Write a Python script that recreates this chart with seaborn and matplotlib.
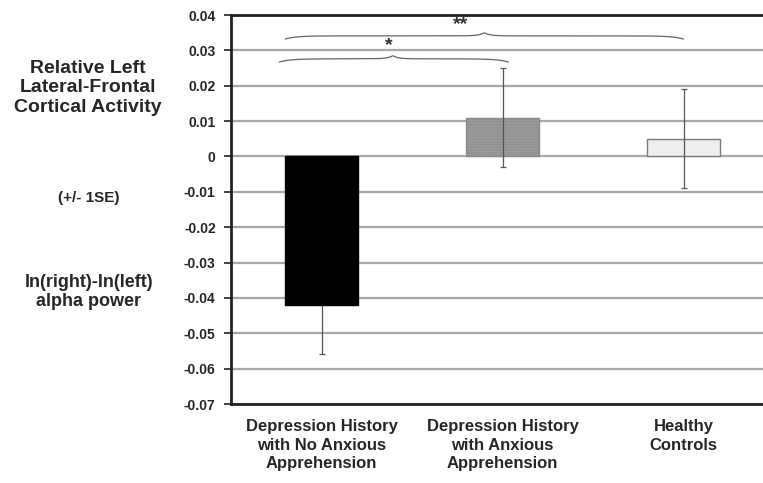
import numpy as np
import matplotlib
matplotlib.use("Agg")
import matplotlib.pyplot as plt
import seaborn as sns

# values
groups = ["Depression History\nwith No Anxious\nApprehension",
          "Depression History\nwith Anxious\nApprehension",
          "Healthy\nControls"]
means = [-0.042, 0.011, 0.005]
se = [0.014, 0.014, 0.014]
bar_colors = ["#000000", "#9c9c9c", "#eeeeee"]
edge_colors = ["#000000", "#8a8a8a", "#7a7a7a"]
yticks = [0.04, 0.03, 0.02, 0.01, 0, -0.01, -0.02, -0.03, -0.04, -0.05, -0.06, -0.07]

sns.set_theme(style="white")
plt.rcParams['font.family'] = ['Liberation Sans', 'DejaVu Sans']

fig = plt.figure(figsize=(7.63, 4.83), dpi=100)
ax = fig.add_axes([231 / 763, 1 - 404 / 483, 543 / 763, 389 / 483])

pos = list(range(len(groups)))
sns.barplot(x=pos, y=means, hue=pos, palette=bar_colors, width=0.4,
            legend=False, ax=ax, zorder=3)
for patch, ec in zip(ax.patches, edge_colors):
    patch.set_edgecolor(ec)
    patch.set_linewidth(1.0)
ax.patches[1].set_hatch("......")

# error bars: the black bar hides its own upper whisker
for i in pos:
    z = 2.5 if means[i] < 0 else 4
    ax.errorbar(i, means[i], yerr=se[i], fmt="none", ecolor="#555555",
                elinewidth=0.9, capsize=2, capthick=0.9, zorder=z)

ax.set_xlim(-0.5, 2.5)
ax.set_ylim(-0.07, 0.04)
ax.set_yticks(yticks)
ax.set_yticklabels(["0" if v == 0 else f"{v:.2f}" for v in yticks],
                   fontsize=10, fontweight="bold")
ax.set_xticks(pos)
ax.set_xticklabels(groups, fontsize=12, fontweight="bold", linespacing=1.3)
ax.tick_params(axis="x", length=0, pad=11)
ax.tick_params(axis="y", length=5, width=1.2, color="#222222", direction="out", pad=6, left=True)
ax.yaxis.grid(True, color="#a8a8a8", linewidth=1.6, zorder=0)
ax.set_axisbelow(True)
for s in ["left", "bottom", "top"]:
    ax.spines[s].set_color("#222222")
    ax.spines[s].set_linewidth(2.0)
ax.spines["right"].set_visible(False)
ax.set_xlabel("")
ax.set_ylabel("")


def brace(ax, x0, x1, xp, y, dip=0.0009, rise=0.0009):
    xs = np.linspace(x0, x1, 400)
    ys = np.full_like(xs, y)
    ys -= dip * np.exp(-(xs - x0) / 0.06)
    ys -= dip * np.exp(-(x1 - xs) / 0.06)
    ys += rise * np.exp(-np.abs(xs - xp) / 0.03)
    ax.plot(xs, ys, color="#666666", linewidth=0.9, clip_on=False, zorder=5)


brace(ax, -0.234, 1.033, 0.394, 0.0276)
ax.text(0.37, 0.0314, "*", ha="center", va="center", fontsize=14, fontweight="bold", color="#333333")
brace(ax, -0.2, 2.0, 0.90, 0.0341)
ax.text(0.77, 0.0372, "**", ha="center", va="center", fontsize=14, fontweight="bold", color="#333333")

fig.text(88 / 763, 1 - 88 / 483, "Relative Left\nLateral-Frontal\nCortical Activity",
         ha="center", va="center", fontsize=14, fontweight="bold", linespacing=1.2)
fig.text(89 / 763, 1 - 198 / 483, "(+/- 1SE)", ha="center", va="center",
         fontsize=11, fontweight="bold")
fig.text(89 / 763, 1 - 292 / 483, "ln(right)-ln(left)\nalpha power", ha="center", va="center",
         fontsize=13, fontweight="bold", linespacing=1.1)

fig.savefig("out.png", dpi=100)
